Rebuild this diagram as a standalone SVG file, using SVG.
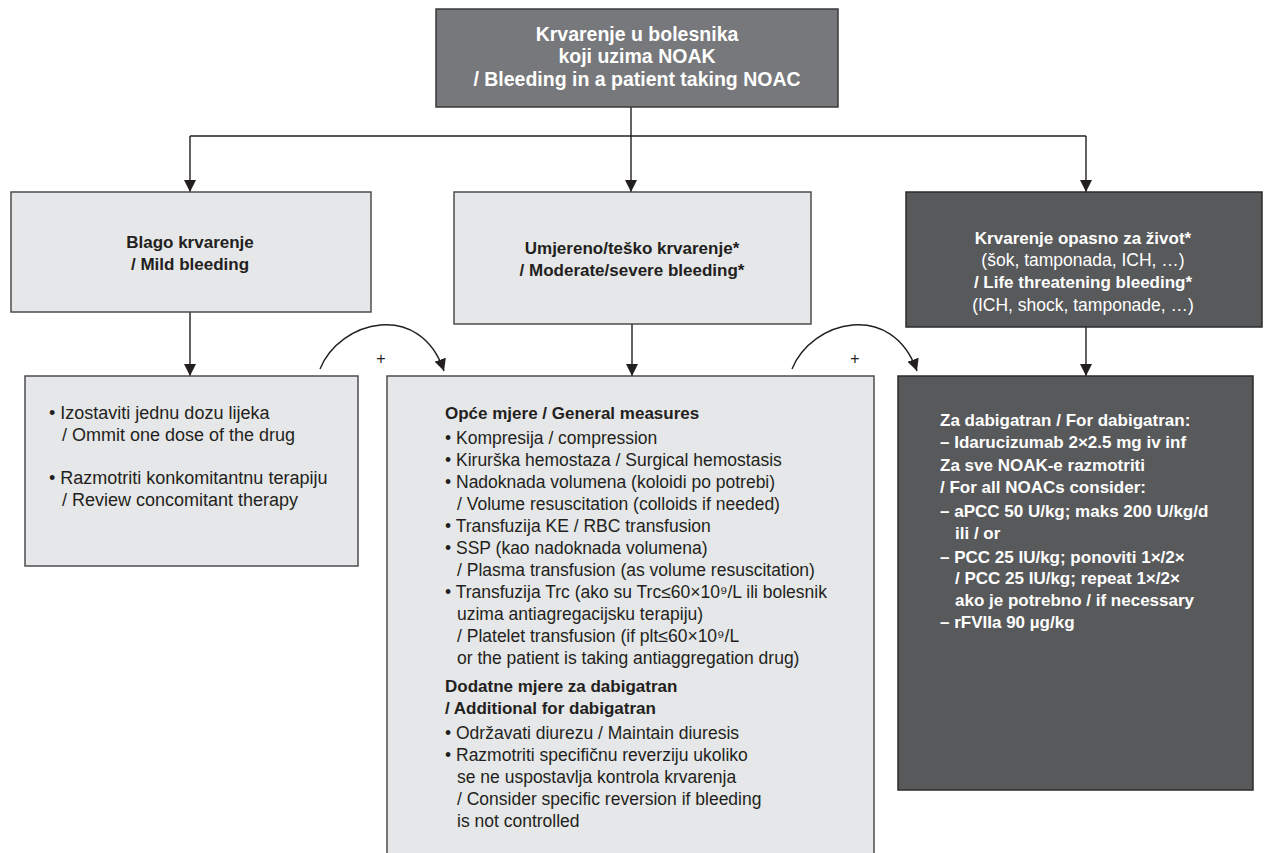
<svg xmlns="http://www.w3.org/2000/svg" width="1264" height="853" viewBox="0 0 1264 853">
<defs>
<marker id="ah" viewBox="0 0 12 12" refX="12" refY="6" markerWidth="12" markerHeight="12" markerUnits="userSpaceOnUse" orient="auto"><path d="M0,0 L12,6 L0,12 z" fill="#231f20"/></marker>
<style>
text{font-family:"Liberation Sans",Arial,sans-serif;font-size:17.5px;fill:#231f20}
.b{font-weight:bold;font-size:17px}
.w{fill:#ffffff}
.c{text-anchor:middle}
.t{font-size:19.5px}
.l{font-size:18px}
.p{font-size:16px}
.light{fill:#e6e7e8;stroke:#4d4d4f;stroke-width:1.5}
.dark{fill:#58595b;stroke:#2b2b2b;stroke-width:1.5}
.mid{fill:#77787b;stroke:#3a3a3a;stroke-width:1.5}
.ln{fill:none;stroke:#231f20;stroke-width:1.4}
</style>
</defs>
<rect width="1264" height="853" fill="#ffffff"/>

<g id="connectors">
<path class="ln" d="M631,107 V136"/>
<path class="ln" d="M190,136 H1086"/>
<path class="ln" d="M190,136 V192" marker-end="url(#ah)"/>
<path class="ln" d="M631,136 V192" marker-end="url(#ah)"/>
<path class="ln" d="M1086,136 V192" marker-end="url(#ah)"/>
<path class="ln" d="M190,312 V376" marker-end="url(#ah)"/>
<path class="ln" d="M632,324 V376" marker-end="url(#ah)"/>
<path class="ln" d="M1086,327 V376" marker-end="url(#ah)"/>
<path class="ln" d="M320,369 C340,320 420,300 444,371" marker-end="url(#ah)"/>
<path class="ln" d="M792,369 C812,320 892,300 917,371" marker-end="url(#ah)"/>
<text x="381" y="364" class="c p">+</text>
<text x="855" y="364" class="c p">+</text>
</g>

<g id="top">
<rect class="mid" x="436" y="9" width="402" height="98"/>
<text class="b w c t" x="637" y="41">Krvarenje u bolesnika</text>
<text class="b w c t" x="637" y="63">koji uzima NOAK</text>
<text class="b w c t" x="637" y="86">/ Bleeding in a patient taking NOAC</text>
</g>

<g id="mild">
<rect class="light" x="11" y="192" width="360" height="120"/>
<text class="b c" x="190" y="248">Blago krvarenje</text>
<text class="b c" x="190" y="270">/ Mild bleeding</text>
</g>

<g id="moderate">
<rect class="light" x="454" y="192" width="357" height="132"/>
<text class="b c" x="632" y="254">Umjereno/teško krvarenje*</text>
<text class="b c" x="632" y="276">/ Moderate/severe bleeding*</text>
</g>

<g id="life">
<rect class="dark" x="906" y="192" width="356" height="135"/>
<text class="b w c" x="1083" y="244">Krvarenje opasno za život*</text>
<text class="w c" x="1083" y="266">(šok, tamponada, ICH, …)</text>
<text class="b w c" x="1083" y="288">/ Life threatening bleeding*</text>
<text class="w c" x="1083" y="311">(ICH, shock, tamponade, …)</text>
</g>

<g id="mild-actions">
<rect class="light" x="25" y="376" width="333" height="190"/>
<text class="l" x="49" y="419">• Izostaviti jednu dozu lijeka</text>
<text class="l" x="62" y="441">/ Ommit one dose of the drug</text>
<text class="l" x="49" y="484">• Razmotriti konkomitantnu terapiju</text>
<text class="l" x="62" y="506">/ Review concomitant therapy</text>
</g>

<g id="moderate-actions">
<rect class="light" x="387" y="376" width="487" height="490"/>
<text class="b" x="445" y="419">Opće mjere / General measures</text>
<text x="445" y="444">• Kompresija / compression</text>
<text x="445" y="466">• Kirurška hemostaza / Surgical hemostasis</text>
<text x="445" y="488">• Nadoknada volumena (koloidi po potrebi)</text>
<text x="457" y="510">/ Volume resuscitation (colloids if needed)</text>
<text x="445" y="532">• Transfuzija KE / RBC transfusion</text>
<text x="445" y="554">• SSP (kao nadoknada volumena)</text>
<text x="457" y="576">/ Plasma transfusion (as volume resuscitation)</text>
<text x="445" y="598">• Transfuzija Trc (ako su Trc≤60×10⁹/L ili bolesnik</text>
<text x="457" y="620">uzima antiagregacijsku terapiju)</text>
<text x="457" y="642">/ Platelet transfusion (if plt≤60×10⁹/L</text>
<text x="457" y="664">or the patient is taking antiaggregation drug)</text>
<text class="b" x="445" y="692">Dodatne mjere za dabigatran</text>
<text class="b" x="445" y="714">/ Additional for dabigatran</text>
<text x="445" y="739">• Održavati diurezu / Maintain diuresis</text>
<text x="445" y="761">• Razmotriti specifičnu reverziju ukoliko</text>
<text x="457" y="783">se ne uspostavlja kontrola krvarenja</text>
<text x="457" y="805">/ Consider specific reversion if bleeding</text>
<text x="457" y="827">is not controlled</text>
</g>

<g id="life-actions">
<rect class="dark" x="898" y="376" width="355" height="414"/>
<text class="b w" x="940" y="426">Za dabigatran / For dabigatran:</text>
<text class="b w" x="940" y="448">– Idarucizumab 2×2.5 mg iv inf</text>
<text class="b w" x="940" y="471">Za sve NOAK-e razmotriti</text>
<text class="b w" x="940" y="493">/ For all NOACs consider:</text>
<text class="b w" x="940" y="517">– aPCC 50 U/kg; maks 200 U/kg/d</text>
<text class="b w" x="955" y="539">ili / or</text>
<text class="b w" x="940" y="563">– PCC 25 IU/kg; ponoviti 1×/2×</text>
<text class="b w" x="955" y="584">/ PCC 25 IU/kg; repeat 1×/2×</text>
<text class="b w" x="955" y="606">ako je potrebno / if necessary</text>
<text class="b w" x="940" y="628">– rFVIIa 90 µg/kg</text>
</g>
</svg>
